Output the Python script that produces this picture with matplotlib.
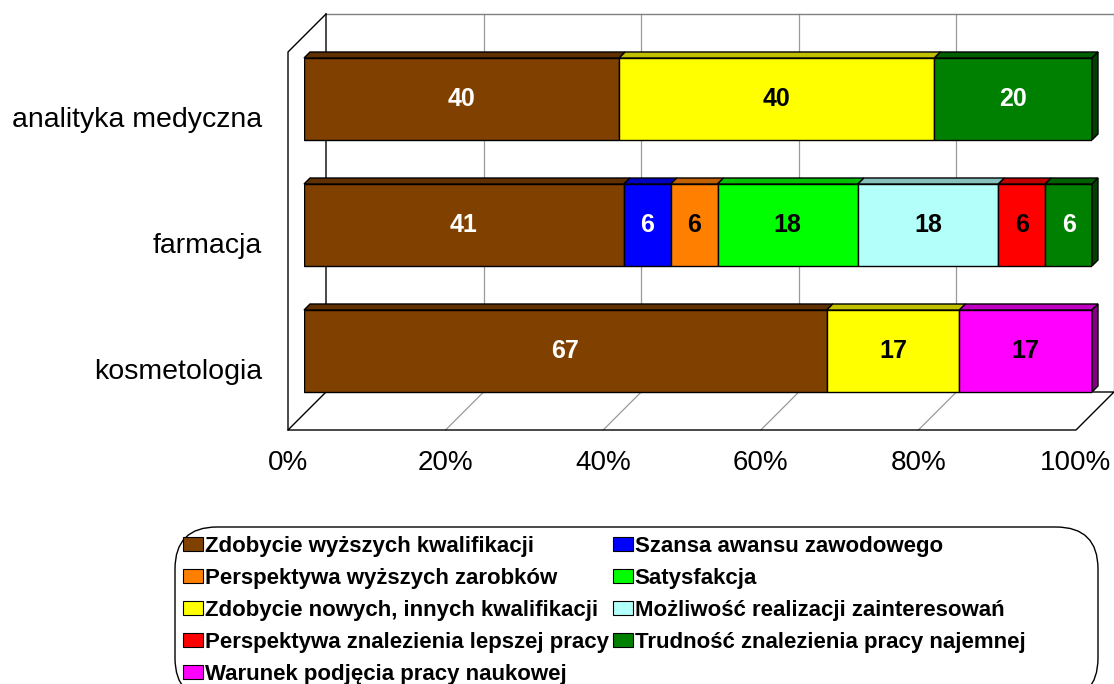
import matplotlib.pyplot as plt
from matplotlib.patches import Polygon, Patch, FancyBboxPatch
import numpy as np

plt.rcParams['font.family'] = ['Liberation Sans', 'DejaVu Sans']

# data
categories = ['analityka medyczna', 'farmacja', 'kosmetologia']
series_names = ['Zdobycie wyższych kwalifikacji', 'Szansa awansu zawodowego',
                'Perspektywa wyższych zarobków', 'Satysfakcja',
                'Zdobycie nowych, innych kwalifikacji', 'Możliwość realizacji zainteresowań',
                'Perspektywa znalezienia lepszej pracy', 'Trudność znalezienia pracy najemnej',
                'Warunek podjęcia pracy naukowej']
zdobycie_wyzszych = [40, 41, 67]
szansa_awansu = [0, 6, 0]
wyzsze_zarobki = [0, 6, 0]
satysfakcja = [0, 18, 0]
nowe_kwalifikacje = [40, 0, 17]
zainteresowania = [0, 18, 0]
lepsza_praca = [0, 6, 0]
trudnosc_pracy = [20, 6, 0]
praca_naukowa = [0, 0, 17]
tick_values = [0, 20, 40, 60, 80, 100]

colors = ['#804000', '#0000FF', '#FF8000', '#00FF00', '#FFFF00', '#B3FFFA', '#FF0000', '#008000', '#FF00FF']
top_colors = ['#603000', '#0000C0', '#C06000', '#00C000', '#C0C000', '#86C0BC', '#C00000', '#006000', '#C000C0']
side_colors = ['#402000', '#000080', '#804000', '#008000', '#808000', '#5A807D', '#800000', '#004000', '#800080']
label_colors = ['white', 'white', 'black', 'black', 'black', 'black', 'black', 'white', 'black']

values = np.array([zdobycie_wyzszych, szansa_awansu, wyzsze_zarobki, satysfakcja,
                   nowe_kwalifikacje, zainteresowania, lepsza_praca, trudnosc_pracy,
                   praca_naukowa]).T
shares = values / values.sum(axis=1, keepdims=True) * 100
lefts = np.cumsum(shares, axis=1) - shares

fig = plt.figure(figsize=(11.14, 6.84), dpi=100)
ax = fig.add_axes([304/1114, 1 - 414/684, 788/1114, 378/684])
ax.set_xlim(0, 100)
ax.set_ylim(2.5, -0.5)
ax.axis('off')

ux = 100 / ax.bbox.width   # data units per pixel
uy = 3 / ax.bbox.height

def dep(x, y, d):
    # shift a point d pixels "into" the picture (right and up)
    return (x + d * ux, y - d * uy)

y0, y1 = -0.5, 2.5
back, front = 22, -16

# walls and floor
ax.add_patch(Polygon([dep(0, y1, back), dep(0, y0, back), dep(100, y0, back), dep(100, y1, back)],
                     fc='white', ec='none', clip_on=False, zorder=0))
for t in tick_values[1:-1]:
    ax.plot(*zip(dep(t, y0, back), dep(t, y1, back)), color='#9a9a9a', lw=0.9, clip_on=False, zorder=0.5)
    ax.plot(*zip(dep(t, y1, back), dep(t, y1, front)), color='#9a9a9a', lw=0.9, clip_on=False, zorder=0.5)
ax.plot(*zip(dep(0, y0, back), dep(100, y0, back), dep(100, y1, back)), color='#808080', lw=1, clip_on=False, zorder=0.6)
ax.plot(*zip(dep(0, y0, back), dep(0, y1, back), dep(100, y1, back), dep(100, y1, front),
             dep(0, y1, front), dep(0, y1, back)), color='black', lw=1, clip_on=False, zorder=0.6)
ax.plot(*zip(dep(0, y0, back), dep(0, y0, front), dep(0, y1, front)), color='black', lw=1, clip_on=False, zorder=0.6)

# bars
h = 82 / 126
for j in range(len(series_names)):
    keep = shares[:, j] > 0
    idx = np.arange(len(categories))[keep]
    ax.barh(idx, shares[keep, j], left=lefts[keep, j], height=h, color=colors[j],
            edgecolor='black', lw=1, zorder=2)
    for i in idx:
        l, w = lefts[i, j], shares[i, j]
        top, bot = i - h / 2, i + h / 2
        ax.add_patch(Polygon([(l, top), (l + w, top), dep(l + w, top, 6), dep(l, top, 6)],
                             fc=top_colors[j], ec='black', lw=1, clip_on=False, zorder=2))
        if j == np.nonzero(shares[i])[0].max():
            ax.add_patch(Polygon([(l + w, top), dep(l + w, top, 6), dep(l + w, bot, 6), (l + w, bot)],
                                 fc=side_colors[j], ec='black', lw=1, clip_on=False, zorder=2))
        ax.text(l + w / 2, i, str(values[i, j]), ha='center', va='center', fontsize=18,
                fontweight='bold', color=label_colors[j], zorder=3)

# category and tick labels
for i, cat in enumerate(categories):
    ax.text(-42 * ux, i + 21 * uy, cat, ha='right', va='center', fontsize=20.5)
for t in tick_values:
    ax.text(t - 16 * ux, y1 + 49 * uy, f'{t}%', ha='center', va='center', fontsize=20)

# legend
order = [0, 2, 4, 6, 8, 1, 3, 5, 7]
handles = [Patch(facecolor=colors[k], edgecolor='black', lw=0.8) for k in order]
fig.legend(handles, [series_names[k] for k in order], ncol=2, loc='upper left',
           bbox_to_anchor=(183/1114, 1 - 536/684), frameon=False,
           prop={'weight': 'bold', 'size': 16}, handlelength=0.9, handleheight=0.6,
           handletextpad=0.1, labelspacing=0.49, columnspacing=0.15,
           borderpad=0, borderaxespad=0)
fig.add_artist(FancyBboxPatch((1.75, -0.16), 9.23, 1.73, boxstyle='round,pad=0,rounding_size=0.42',
                              transform=fig.dpi_scale_trans, fc='none', ec='black', lw=1))

fig.savefig('out.png', dpi=100)
